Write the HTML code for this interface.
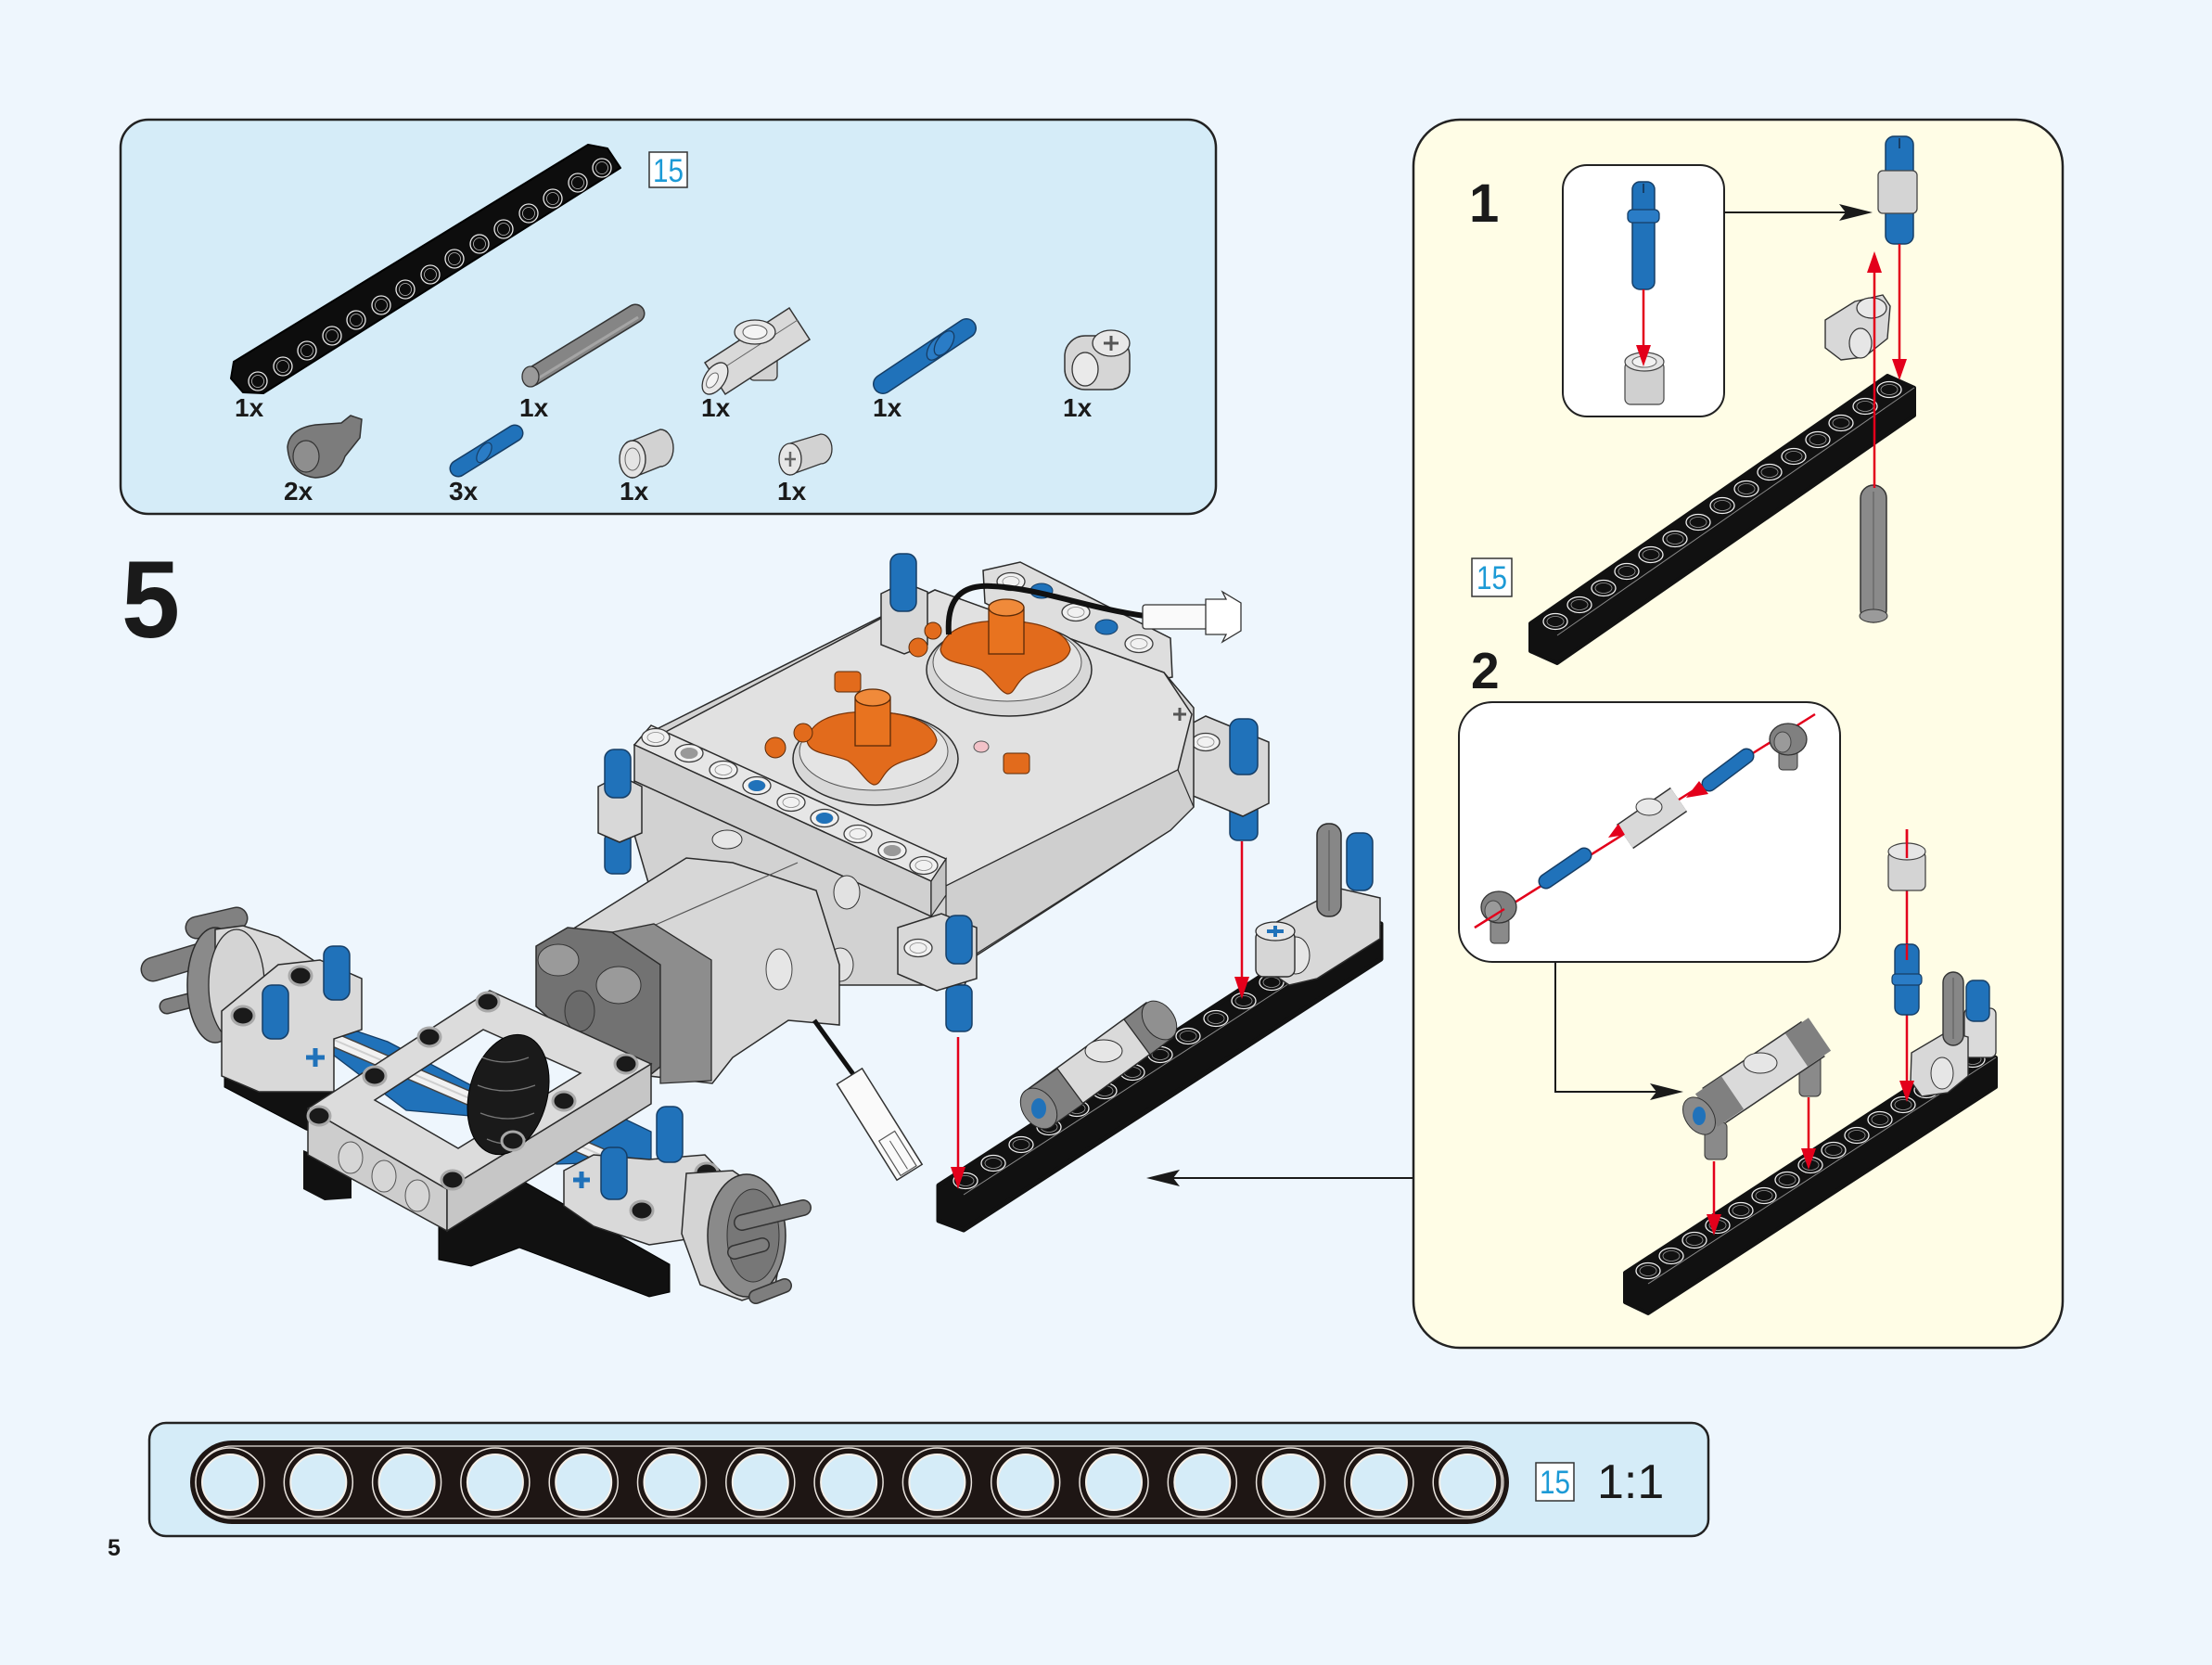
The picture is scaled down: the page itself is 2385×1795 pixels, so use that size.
<!DOCTYPE html>
<html><head><meta charset="utf-8">
<style>
html,body{margin:0;padding:0;background:#eef6fd;}
svg{display:block;}
text{font-family:"Liberation Sans",Arial,sans-serif;}
</style></head><body>
<svg width="2385" height="1795" viewBox="0 0 2385 1795" xmlns="http://www.w3.org/2000/svg" xmlns:xlink="http://www.w3.org/1999/xlink">
<defs>
<g id="hA"><ellipse rx="13" ry="8.5" fill="#111" stroke="#eee" stroke-width="1.3"/><ellipse rx="9" ry="5.5" fill="none" stroke="#9a9a9a" stroke-width="0.8"/></g>
<g id="hP"><circle r="10" fill="#0d0d0d" stroke="#e6e6e6" stroke-width="1.3"/><circle r="6.5" fill="none" stroke="#bbb" stroke-width="0.8"/></g>
<g id="hR"><circle r="37" fill="#1e1614" stroke="#e9e3dd" stroke-width="1.5"/><circle r="30" fill="#d5ecf8" stroke="#f4f0ea" stroke-width="2"/></g>
<g id="hL"><ellipse rx="15" ry="9.5" fill="#f1f1f1" stroke="#3a3a3a" stroke-width="1.3"/><ellipse rx="9" ry="5.5" fill="none" stroke="#888" stroke-width="0.8"/></g>
<g id="hF"><ellipse rx="12" ry="10" fill="#1a1a1a" stroke="#a8a8a8" stroke-width="3"/></g>
</defs>
<rect width="2385" height="1795" fill="#eef6fd"/>

<!-- ============ PARTS PANEL ============ -->
<rect x="130" y="129" width="1181" height="425" rx="30" fill="#d5ecf8" stroke="#222" stroke-width="2.5"/>
<polygon points="252,390 634,156 655,160 669,181 284,424 262,423 249,408" fill="#0d0d0d" stroke="#000" stroke-width="2" stroke-linejoin="round"/>
<g>
<use xlink:href="#hP" x="278" y="411"/><use xlink:href="#hP" x="305" y="395"/><use xlink:href="#hP" x="331" y="378"/><use xlink:href="#hP" x="358" y="362"/><use xlink:href="#hP" x="384" y="345"/><use xlink:href="#hP" x="411" y="329"/><use xlink:href="#hP" x="437" y="312"/><use xlink:href="#hP" x="464" y="296"/><use xlink:href="#hP" x="490" y="279"/><use xlink:href="#hP" x="517" y="263"/><use xlink:href="#hP" x="543" y="247"/><use xlink:href="#hP" x="570" y="230"/><use xlink:href="#hP" x="596" y="214"/><use xlink:href="#hP" x="623" y="197"/><use xlink:href="#hP" x="649" y="181"/>
</g>
<rect x="700" y="164" width="41" height="38" fill="#fff" stroke="#333" stroke-width="1.5"/>
<text x="720.5" y="196" font-size="35" fill="#1c9ad6" text-anchor="middle" textLength="33" lengthAdjust="spacingAndGlyphs">15</text>

<!-- gray axle -->
<line x1="574" y1="406" x2="685" y2="338" stroke="#333" stroke-width="21" stroke-linecap="round"/>
<line x1="574" y1="406" x2="685" y2="338" stroke="#858585" stroke-width="18" stroke-linecap="round"/>
<line x1="580" y1="408" x2="688" y2="342" stroke="#a5a5a5" stroke-width="3"/>
<ellipse cx="572" cy="406" rx="9" ry="11" fill="#9a9a9a" stroke="#333" stroke-width="1.3"/>
<!-- light gray connector -->
<rect x="808" y="378" width="30" height="32" rx="5" fill="#d2d2d2" stroke="#333" stroke-width="1.3"/>
<polygon points="760,391 851,332 873,366 782,425" fill="#d9d9d9" stroke="#333" stroke-width="1.5"/>
<line x1="778" y1="398" x2="860" y2="345" stroke="#666" stroke-width="1"/>
<ellipse cx="771" cy="408" rx="11" ry="19" transform="rotate(33 771 408)" fill="#e8e8e8" stroke="#333" stroke-width="1.3"/>
<ellipse cx="768" cy="410" rx="5" ry="9" transform="rotate(33 768 410)" fill="#f4f4f4" stroke="#666" stroke-width="1"/>
<ellipse cx="814" cy="358" rx="22" ry="13" fill="#e8e8e8" stroke="#333" stroke-width="1.3"/>
<ellipse cx="814" cy="358" rx="13" ry="7.5" fill="#f4f4f4" stroke="#555" stroke-width="1"/>
<!-- blue pin -->
<line x1="952" y1="414" x2="1042" y2="354" stroke="#163e66" stroke-width="22" stroke-linecap="round"/>
<line x1="952" y1="414" x2="1042" y2="354" stroke="#2072ba" stroke-width="19" stroke-linecap="round"/>
<ellipse cx="1010" cy="375" rx="8" ry="15" transform="rotate(34 1010 375)" fill="#2a7cc6" stroke="#163e66" stroke-width="1.3"/>
<ellipse cx="1018" cy="370" rx="8" ry="15" transform="rotate(34 1018 370)" fill="#2a7cc6" stroke="#163e66" stroke-width="1.3"/>
<!-- small light connector -->
<rect x="1148" y="362" width="70" height="58" rx="22" fill="#d6d6d6" stroke="#333" stroke-width="1.5"/>
<ellipse cx="1198" cy="370" rx="20" ry="14" fill="#e8e8e8" stroke="#333" stroke-width="1.3"/>
<path d="M1190,370 h16 M1198,362 v16" stroke="#555" stroke-width="3"/>
<ellipse cx="1170" cy="398" rx="14" ry="18" fill="#eaeaea" stroke="#333" stroke-width="1.3"/>
<!-- 2x dark part -->
<path d="M310,482 Q312,462 340,458 L368,456 L378,448 L390,452 L388,472 L372,492 Q365,514 340,515 Q312,512 310,482 Z" fill="#7c7c7c" stroke="#333" stroke-width="1.5"/>
<ellipse cx="330" cy="492" rx="14" ry="17" fill="#8e8e8e" stroke="#333" stroke-width="1.2"/>
<!-- 3x blue pin -->
<line x1="494" y1="505" x2="555" y2="467" stroke="#163e66" stroke-width="19" stroke-linecap="round"/>
<line x1="494" y1="505" x2="555" y2="467" stroke="#2072ba" stroke-width="16" stroke-linecap="round"/>
<ellipse cx="522" cy="488" rx="6" ry="12" transform="rotate(32 522 488)" fill="#2a7cc6" stroke="#163e66" stroke-width="1.2"/>
<!-- bushing -->
<path d="M682,475 L712,463 A14,20 0 0 1 712,503 L682,515 Z" fill="#d2d2d2" stroke="#333" stroke-width="1.4"/>
<ellipse cx="682" cy="495" rx="14" ry="20" fill="#e4e4e4" stroke="#333" stroke-width="1.4"/>
<ellipse cx="682" cy="495" rx="8" ry="12" fill="none" stroke="#666" stroke-width="1"/>
<!-- small bushing with cross -->
<path d="M852,478 L885,468 A12,16 0 0 1 885,500 L852,512 Z" fill="#d2d2d2" stroke="#333" stroke-width="1.3"/>
<ellipse cx="852" cy="495" rx="12" ry="17" fill="#e6e6e6" stroke="#333" stroke-width="1.3"/>
<path d="M846,495 h12 M852,487 v16" stroke="#666" stroke-width="2.5"/>

<g font-size="28" font-weight="bold" fill="#1a1a1a">
<text x="253" y="449">1x</text><text x="560" y="449">1x</text><text x="756" y="449">1x</text><text x="941" y="449">1x</text><text x="1146" y="449">1x</text>
<text x="306" y="539">2x</text><text x="484" y="539">3x</text><text x="668" y="539">1x</text><text x="838" y="539">1x</text>
</g>

<!-- step number -->
<text x="131" y="687" font-size="118" font-weight="bold" fill="#1a1a1a" textLength="63" lengthAdjust="spacingAndGlyphs">5</text>

<!-- ============ MAIN ASSEMBLY ============ -->
<!-- back beam -->
<polygon points="1060,615 1100,606 1262,688 1264,730 1232,736 1062,650" fill="#dedede" stroke="#2b2b2b" stroke-width="1.5"/>
<use xlink:href="#hL" x="1090" y="627"/><use xlink:href="#hL" x="1160" y="660"/><use xlink:href="#hL" x="1228" y="694"/>
<ellipse cx="1123" cy="637" rx="12" ry="8" fill="#2072ba" stroke="#163e66"/>
<ellipse cx="1193" cy="676" rx="12" ry="8" fill="#2072ba" stroke="#163e66"/>
<!-- right piece -->
<rect x="1326" y="866" width="30" height="40" rx="8" fill="#2072ba" stroke="#163e66" stroke-width="1.5"/>
<polygon points="1262,792 1300,772 1368,800 1368,866 1340,880 1262,848" fill="#d8d8d8" stroke="#2b2b2b" stroke-width="1.5"/>
<use xlink:href="#hL" x="1300" y="800"/>
<rect x="1326" y="775" width="30" height="60" rx="10" fill="#2072ba" stroke="#163e66" stroke-width="1.5"/>
<!-- box -->
<polygon points="700,790 1008,636 1255,725 1287,763 1287,870 1262,895 1053,1030 1018,1000 960,985 700,860" fill="#d3d3d3" stroke="#2b2b2b" stroke-width="1.5"/>
<polygon points="712,792 1008,636 1255,725 1285,770 1270,830 1020,955" fill="#e1e1e1" stroke="#2b2b2b" stroke-width="1.5"/>
<polygon points="1020,955 1270,830 1287,870 1262,895 1053,1028 1020,1000" fill="#cfcfcf" stroke="#2b2b2b" stroke-width="1.2"/>
<path d="M1265,770 l14,0 M1272,763 v14" stroke="#555" stroke-width="3"/>
<!-- top-left post -->
<path d="M950,640 L975,628 L1000,638 L1000,695 L975,705 L950,695 Z" fill="#d8d8d8" stroke="#2b2b2b" stroke-width="1.5"/>
<rect x="960" y="597" width="28" height="62" rx="10" fill="#2072ba" stroke="#163e66" stroke-width="1.5"/>
<!-- circle A -->
<ellipse cx="1088" cy="722" rx="89" ry="50" fill="#d8d8d8" stroke="#2b2b2b" stroke-width="1.5"/>
<ellipse cx="1086" cy="714" rx="80" ry="42" fill="#e4e4e4" stroke="#555" stroke-width="1"/>
<path d="M1014,700 C1020,672 1060,668 1088,670 C1120,670 1150,680 1154,700 C1150,720 1118,718 1104,730 C1094,738 1094,748 1086,748 C1078,746 1070,730 1058,722 C1040,714 1016,716 1014,700 Z" fill="#e26b1c" stroke="#7a3408" stroke-width="1.2"/>
<rect x="1066" y="655" width="38" height="50" fill="#e8731f" stroke="#5a2a08" stroke-width="1.3"/>
<ellipse cx="1085" cy="655" rx="19" ry="9" fill="#f08a3a" stroke="#5a2a08" stroke-width="1.3"/>
<!-- circle B -->
<ellipse cx="944" cy="818" rx="89" ry="50" fill="#d8d8d8" stroke="#2b2b2b" stroke-width="1.5"/>
<ellipse cx="942" cy="810" rx="80" ry="42" fill="#e4e4e4" stroke="#555" stroke-width="1"/>
<path d="M870,798 C876,770 916,766 944,768 C976,768 1006,778 1010,798 C1006,818 974,816 960,828 C950,836 950,846 942,846 C934,844 926,828 914,820 C896,812 872,814 870,798 Z" fill="#e26b1c" stroke="#7a3408" stroke-width="1.2"/>
<rect x="922" y="752" width="38" height="52" fill="#e8731f" stroke="#5a2a08" stroke-width="1.3"/>
<ellipse cx="941" cy="752" rx="19" ry="9" fill="#f08a3a" stroke="#5a2a08" stroke-width="1.3"/>
<!-- small orange bits -->
<circle cx="836" cy="806" r="11" fill="#e26b1c" stroke="#5a2a08"/><circle cx="866" cy="790" r="10" fill="#e26b1c" stroke="#5a2a08"/>
<circle cx="990" cy="698" r="10" fill="#e26b1c" stroke="#5a2a08"/><circle cx="1006" cy="680" r="9" fill="#e26b1c" stroke="#5a2a08"/>
<rect x="900" y="724" width="28" height="22" rx="4" fill="#e26b1c" stroke="#5a2a08"/>
<rect x="1082" y="812" width="28" height="22" rx="4" fill="#e26b1c" stroke="#5a2a08"/>
<ellipse cx="1058" cy="805" rx="8" ry="6" fill="#f2c2c8" stroke="#555"/>
<!-- cable top -->
<path d="M1023,684 C1020,642 1040,630 1070,632 C1120,634 1170,655 1234,664" fill="none" stroke="#111" stroke-width="6"/>
<rect x="1232" y="652" width="70" height="26" rx="3" fill="#fafafa" stroke="#333" stroke-width="1.3"/>
<path d="M1300,646 L1322,646 L1318,638 L1338,650 L1338,680 L1318,692 L1322,684 L1300,684 Z" fill="#fff" stroke="#333" stroke-width="1.3"/>
<!-- front beam -->
<polygon points="684,803 702,782 1020,926 1004,950" fill="#e6e6e6" stroke="#2b2b2b" stroke-width="1.5"/>
<polygon points="684,803 1004,950 1004,988 684,842" fill="#d0d0d0" stroke="#2b2b2b" stroke-width="1.5"/>
<polygon points="1004,950 1020,926 1020,965 1004,988" fill="#c4c4c4" stroke="#2b2b2b" stroke-width="1.2"/>
<use xlink:href="#hL" x="707" y="795"/><use xlink:href="#hL" x="743" y="812"/><use xlink:href="#hL" x="780" y="830"/><use xlink:href="#hL" x="816" y="847"/><use xlink:href="#hL" x="853" y="865"/><use xlink:href="#hL" x="889" y="882"/><use xlink:href="#hL" x="925" y="899"/><use xlink:href="#hL" x="962" y="917"/><use xlink:href="#hL" x="996" y="933"/>
<ellipse cx="816" cy="847" rx="9" ry="6" fill="#2072ba"/><ellipse cx="889" cy="882" rx="9" ry="6" fill="#2072ba"/>
<ellipse cx="743" cy="812" rx="9" ry="6" fill="#999"/><ellipse cx="962" cy="917" rx="9" ry="6" fill="#999"/>
<!-- region below front beam -->
<polygon points="684,842 1004,988 1040,1010 1053,1030 1040,1062 900,1062 860,1020 760,985 700,955 684,900" fill="#d2d2d2" stroke="#2b2b2b" stroke-width="1.5"/>
<ellipse cx="784" cy="905" rx="16" ry="10" fill="#e6e6e6" stroke="#333"/>
<ellipse cx="913" cy="962" rx="14" ry="18" fill="#e2e2e2" stroke="#333"/>
<ellipse cx="906" cy="1040" rx="14" ry="18" fill="#e2e2e2" stroke="#333"/>
<!-- left post -->
<rect x="652" y="897" width="28" height="45" rx="8" fill="#2072ba" stroke="#163e66" stroke-width="1.5"/>
<polygon points="645,848 668,836 692,848 692,898 668,908 645,898" fill="#d8d8d8" stroke="#2b2b2b" stroke-width="1.5"/>
<rect x="652" y="808" width="28" height="52" rx="10" fill="#2072ba" stroke="#163e66" stroke-width="1.5"/>
<!-- bottom right post -->
<rect x="1020" y="1062" width="28" height="50" rx="8" fill="#2072ba" stroke="#163e66" stroke-width="1.5"/>
<polygon points="968,1000 1015,985 1053,1000 1053,1055 1010,1068 968,1050" fill="#d8d8d8" stroke="#2b2b2b" stroke-width="1.5"/>
<use xlink:href="#hL" x="990" y="1022"/>
<rect x="1020" y="987" width="28" height="52" rx="10" fill="#2072ba" stroke="#163e66" stroke-width="1.5"/>

<!-- motor -->
<polygon points="612,1005 740,925 790,930 880,960 905,1040 905,1105 850,1100 790,1140 768,1168 700,1160" fill="#d7d7d7" stroke="#2b2b2b" stroke-width="1.5"/>
<line x1="700" y1="1000" x2="860" y2="930" stroke="#555" stroke-width="1.2"/>
<ellipse cx="840" cy="1045" rx="14" ry="22" fill="#e6e6e6" stroke="#444"/>
<polygon points="578,1020 612,1000 660,1005 712,1040 712,1150 690,1168 650,1150 578,1085" fill="#727272" stroke="#2b2b2b" stroke-width="1.5"/>
<polygon points="660,1005 705,996 767,1035 767,1165 712,1168 712,1040" fill="#8d8d8d" stroke="#2b2b2b" stroke-width="1.3"/>
<ellipse cx="602" cy="1035" rx="22" ry="17" fill="#9a9a9a" stroke="#333"/>
<ellipse cx="667" cy="1062" rx="24" ry="20" fill="#9a9a9a" stroke="#333"/>
<ellipse cx="625" cy="1090" rx="16" ry="22" fill="#6a6a6a" stroke="#333"/>

<!-- left chassis -->
<polygon points="242,1135 262,1128 400,1195 400,1240 330,1218 242,1172" fill="#111" stroke="#000"/>
<polygon points="359,1103 418,1123 508,1170 508,1203 438,1197 359,1137" fill="#2072ba" stroke="#163e66" stroke-width="1.3"/>
<polygon points="593,1207 650,1195 702,1220 702,1252 600,1255" fill="#2072ba" stroke="#163e66" stroke-width="1.3"/>
<line x1="300" y1="1095" x2="740" y2="1285" stroke="#444" stroke-width="16"/>
<line x1="300" y1="1095" x2="740" y2="1285" stroke="#f2f2f2" stroke-width="13"/>
<line x1="300" y1="1095" x2="740" y2="1285" stroke="#cfcfcf" stroke-width="2"/>
<!-- left hub -->
<line x1="165" y1="1045" x2="215" y2="1030" stroke="#333" stroke-width="27" stroke-linecap="round"/>
<line x1="165" y1="1045" x2="215" y2="1030" stroke="#818181" stroke-width="24" stroke-linecap="round"/>
<line x1="212" y1="1000" x2="255" y2="990" stroke="#333" stroke-width="25" stroke-linecap="round"/>
<line x1="212" y1="1000" x2="255" y2="990" stroke="#818181" stroke-width="22" stroke-linecap="round"/>
<line x1="180" y1="1085" x2="215" y2="1076" stroke="#333" stroke-width="17" stroke-linecap="round"/>
<line x1="180" y1="1085" x2="215" y2="1076" stroke="#818181" stroke-width="14" stroke-linecap="round"/>
<ellipse cx="232" cy="1062" rx="30" ry="62" fill="#8a8a8a" stroke="#2b2b2b" stroke-width="1.5"/>
<polygon points="232,1002 262,998 300,1010 345,1040 345,1125 300,1135 245,1120 232,1070" fill="#d9d9d9" stroke="#2b2b2b" stroke-width="1.5"/>
<ellipse cx="255" cy="1062" rx="30" ry="60" fill="#d4d4d4" stroke="#2b2b2b" stroke-width="1.3"/>
<!-- blocks -->
<polygon points="239,1090 300,1040 345,1035 390,1055 390,1110 360,1120 360,1177 279,1177 239,1160" fill="#d9d9d9" stroke="#2b2b2b" stroke-width="1.5"/>
<use xlink:href="#hF" x="262" y="1095"/><use xlink:href="#hF" x="324" y="1052"/>
<rect x="283" y="1062" width="28" height="58" rx="10" fill="#2072ba" stroke="#163e66" stroke-width="1.5"/>
<rect x="349" y="1020" width="28" height="58" rx="10" fill="#2072ba" stroke="#163e66" stroke-width="1.5"/>
<path d="M330,1140 h20 M340,1130 v20" stroke="#2072ba" stroke-width="5"/>
<!-- black legs & base -->
<polygon points="327,1240 379,1262 379,1292 350,1294 327,1282" fill="#111"/>
<polygon points="473,1283 508,1290 558,1270 722,1363 722,1393 700,1398 560,1345 508,1365 473,1358" fill="#111" stroke="#000"/>
<!-- frame -->
<polygon points="332,1195 482,1282 482,1327 332,1245" fill="#cdcdcd" stroke="#2b2b2b" stroke-width="1.5"/>
<polygon points="482,1282 702,1147 702,1190 482,1327" fill="#c6c6c6" stroke="#2b2b2b" stroke-width="1.5"/>
<path d="M332,1195 L528,1068 L702,1147 L482,1282 Z M404,1186 L494,1238 L626,1157 L521,1110 Z" fill="#dcdcdc" fill-rule="evenodd" stroke="#2b2b2b" stroke-width="1.5"/>
<ellipse cx="378" cy="1248" rx="13" ry="17" fill="#d6d6d6" stroke="#555"/>
<ellipse cx="414" cy="1268" rx="13" ry="17" fill="#d6d6d6" stroke="#555"/>
<ellipse cx="450" cy="1289" rx="13" ry="17" fill="#d6d6d6" stroke="#555"/>
<ellipse cx="548" cy="1180" rx="42" ry="66" transform="rotate(15 548 1180)" fill="#1a1a1a" stroke="#000"/>
<path d="M520,1140 q25,10 50,0 M515,1170 q30,12 62,0 M518,1200 q30,12 58,0 M525,1228 q22,10 42,0" fill="none" stroke="#777" stroke-width="1.3"/>
<use xlink:href="#hF" x="344" y="1203"/><use xlink:href="#hF" x="404" y="1160"/><use xlink:href="#hF" x="463" y="1118"/><use xlink:href="#hF" x="526" y="1080"/><use xlink:href="#hF" x="675" y="1147"/><use xlink:href="#hF" x="608" y="1187"/><use xlink:href="#hF" x="553" y="1230"/><use xlink:href="#hF" x="488" y="1272"/>
<!-- lower right blocks -->
<polygon points="608,1262 640,1245 700,1250 760,1245 782,1268 782,1330 700,1342 640,1322 608,1300" fill="#d9d9d9" stroke="#2b2b2b" stroke-width="1.5"/>
<use xlink:href="#hF" x="692" y="1305"/><use xlink:href="#hF" x="762" y="1264"/>
<path d="M618,1272 h18 M627,1263 v18" stroke="#2072ba" stroke-width="5"/>
<rect x="648" y="1237" width="28" height="56" rx="10" fill="#2072ba" stroke="#163e66" stroke-width="1.5"/>
<rect x="708" y="1193" width="28" height="60" rx="10" fill="#2072ba" stroke="#163e66" stroke-width="1.5"/>
<!-- lower right hub -->
<polygon points="740,1265 790,1262 830,1290 846,1330 835,1390 800,1402 755,1385 735,1330" fill="#d4d4d4" stroke="#2b2b2b" stroke-width="1.5"/>
<ellipse cx="805" cy="1332" rx="42" ry="66" fill="#8a8a8a" stroke="#2b2b2b" stroke-width="1.5"/>
<ellipse cx="812" cy="1332" rx="28" ry="50" fill="#777" stroke="#333"/>
<line x1="800" y1="1318" x2="866" y2="1302" stroke="#333" stroke-width="18" stroke-linecap="round"/>
<line x1="800" y1="1318" x2="866" y2="1302" stroke="#7e7e7e" stroke-width="15" stroke-linecap="round"/>
<line x1="792" y1="1350" x2="822" y2="1342" stroke="#333" stroke-width="16" stroke-linecap="round"/>
<line x1="792" y1="1350" x2="822" y2="1342" stroke="#7e7e7e" stroke-width="13" stroke-linecap="round"/>
<line x1="815" y1="1398" x2="846" y2="1386" stroke="#333" stroke-width="16" stroke-linecap="round"/>
<line x1="815" y1="1398" x2="846" y2="1386" stroke="#7e7e7e" stroke-width="13" stroke-linecap="round"/>

<!-- bottom cable and plug -->
<path d="M878,1100 L925,1165" stroke="#111" stroke-width="5"/>
<g transform="translate(952,1218) rotate(-32)">
<rect x="-16" y="-68" width="32" height="122" fill="#fafafa" stroke="#333" stroke-width="1.5"/>
<rect x="-10" y="8" width="20" height="44" fill="none" stroke="#555" stroke-width="1.2"/>
<line x1="0" y1="14" x2="0" y2="50" stroke="#555" stroke-width="1"/>
</g>

<!-- main black beam -->
<polygon points="1012,1278 1462,986 1489,996 1489,1034 1039,1326 1012,1316" fill="#111" stroke="#111" stroke-width="5" stroke-linejoin="round"/>
<line x1="1039" y1="1288" x2="1489" y2="996" stroke="#888" stroke-width="1"/>
<g>
<use xlink:href="#hA" x="1041" y="1273"/><use xlink:href="#hA" x="1071" y="1254"/><use xlink:href="#hA" x="1101" y="1234"/><use xlink:href="#hA" x="1131" y="1215"/><use xlink:href="#hA" x="1161" y="1195"/><use xlink:href="#hA" x="1191" y="1176"/><use xlink:href="#hA" x="1221" y="1156"/><use xlink:href="#hA" x="1251" y="1137"/><use xlink:href="#hA" x="1281" y="1117"/><use xlink:href="#hA" x="1311" y="1098"/><use xlink:href="#hA" x="1341" y="1079"/><use xlink:href="#hA" x="1371" y="1059"/><use xlink:href="#hA" x="1401" y="1040"/><use xlink:href="#hA" x="1431" y="1020"/><use xlink:href="#hA" x="1461" y="1001"/>
</g>
<!-- tube connector -->
<polygon points="1106,1176 1236,1081 1264,1119 1134,1214" fill="#dadada" stroke="#2b2b2b" stroke-width="1.5"/>
<polygon points="1106,1176 1140,1152 1168,1190 1134,1214" fill="#808080" stroke="#2b2b2b" stroke-width="1.3"/>
<polygon points="1212,1099 1236,1081 1264,1119 1240,1137" fill="#808080" stroke="#2b2b2b" stroke-width="1.3"/>
<ellipse cx="1250" cy="1100" rx="16" ry="23" transform="rotate(-36 1250 1100)" fill="#909090" stroke="#2b2b2b"/>
<ellipse cx="1120" cy="1195" rx="17" ry="24" transform="rotate(-36 1120 1195)" fill="#8a8a8a" stroke="#2b2b2b"/>
<ellipse cx="1120" cy="1195" rx="8" ry="11" fill="#2072ba"/>
<ellipse cx="1190" cy="1133" rx="20" ry="12" fill="#e6e6e6" stroke="#2b2b2b"/>
<!-- right end parts -->
<polygon points="1365,1000 1445,958 1488,968 1488,1012 1420,1055 1390,1062 1365,1045" fill="#d8d8d8" stroke="#2b2b2b" stroke-width="1.5"/>
<ellipse cx="1397" cy="1030" rx="15" ry="20" fill="#e6e6e6" stroke="#2b2b2b"/>
<rect x="1420" y="888" width="26" height="100" rx="12" fill="#878787" stroke="#2b2b2b" stroke-width="1.5"/>
<line x1="1433" y1="895" x2="1433" y2="982" stroke="#666" stroke-width="1.5"/>
<rect x="1452" y="898" width="28" height="62" rx="10" fill="#2072ba" stroke="#163e66" stroke-width="1.5"/>
<rect x="1354" y="1003" width="42" height="50" rx="8" fill="#d6d6d6" stroke="#2b2b2b" stroke-width="1.4"/>
<ellipse cx="1375" cy="1004" rx="21" ry="10" fill="#e8e8e8" stroke="#2b2b2b" stroke-width="1.3"/>
<path d="M1366,1004 h18 M1375,998 v12" stroke="#2072ba" stroke-width="4"/>

<!-- red arrows main -->
<line x1="1339" y1="907" x2="1339" y2="1058" stroke="#e3001b" stroke-width="2.5"/>
<polygon points="1339,1077 1331,1053 1347,1053" fill="#e3001b"/>
<line x1="1033" y1="1118" x2="1033" y2="1262" stroke="#e3001b" stroke-width="2.5"/>
<polygon points="1033,1282 1025,1258 1041,1258" fill="#e3001b"/>
<!-- black arrow main -->
<line x1="1524" y1="1270" x2="1262" y2="1270" stroke="#1a1a1a" stroke-width="2"/>
<polygon points="1236,1270 1272,1261 1265,1270 1272,1279" fill="#1a1a1a"/>

<!-- ============ RIGHT PANEL ============ -->
<rect x="1524" y="129" width="700" height="1324" rx="50" fill="#fffde6" stroke="#222" stroke-width="2.5"/>
<text x="1584" y="239" font-size="58" font-weight="bold" fill="#1a1a1a">1</text>
<text x="1586" y="742" font-size="55" font-weight="bold" fill="#1a1a1a">2</text>

<!-- inset 1 -->
<rect x="1685" y="178" width="174" height="271" rx="26" fill="#fff" stroke="#222" stroke-width="2"/>
<rect x="1760" y="196" width="24" height="116" rx="8" fill="#2072ba" stroke="#163e66" stroke-width="1.5"/>
<rect x="1755" y="226" width="34" height="14" rx="5" fill="#2a7cc6" stroke="#163e66" stroke-width="1.3"/>
<line x1="1772" y1="198" x2="1772" y2="208" stroke="#163e66" stroke-width="2"/>
<line x1="1772" y1="312" x2="1772" y2="375" stroke="#e3001b" stroke-width="2.5"/>
<rect x="1752" y="390" width="42" height="46" rx="6" fill="#d0d0d0" stroke="#444" stroke-width="1.2"/>
<ellipse cx="1773" cy="390" rx="21" ry="10" fill="#e4e4e4" stroke="#444" stroke-width="1.2"/>
<ellipse cx="1773" cy="390" rx="13" ry="6" fill="#f2f2f2" stroke="#666" stroke-width="1"/>
<polygon points="1772,395 1764,372 1780,372" fill="#e3001b"/>
<line x1="1859" y1="229" x2="1992" y2="229" stroke="#1a1a1a" stroke-width="2"/>
<polygon points="2019,229 1983,220 1990,229 1983,238" fill="#1a1a1a"/>
<!-- assembled pin+bush -->
<rect x="2033" y="147" width="30" height="116" rx="9" fill="#2072ba" stroke="#163e66" stroke-width="1.5"/>
<line x1="2048" y1="149" x2="2048" y2="160" stroke="#163e66" stroke-width="2"/>
<rect x="2025" y="184" width="42" height="46" rx="5" fill="#d4d4d4" stroke="#444" stroke-width="1.3"/>
<!-- beam 1 -->
<polygon points="1650,672 2035,405 2064,418 2064,448 1679,715 1650,702" fill="#111" stroke="#111" stroke-width="4" stroke-linejoin="round"/>
<line x1="1679" y1="685" x2="2064" y2="418" stroke="#888" stroke-width="1"/>
<g>
<use xlink:href="#hA" x="1677" y="670"/><use xlink:href="#hA" x="1703" y="652"/><use xlink:href="#hA" x="1729" y="634"/><use xlink:href="#hA" x="1754" y="616"/><use xlink:href="#hA" x="1780" y="598"/><use xlink:href="#hA" x="1806" y="581"/><use xlink:href="#hA" x="1831" y="563"/><use xlink:href="#hA" x="1857" y="545"/><use xlink:href="#hA" x="1883" y="527"/><use xlink:href="#hA" x="1908" y="509"/><use xlink:href="#hA" x="1934" y="492"/><use xlink:href="#hA" x="1960" y="474"/><use xlink:href="#hA" x="1985" y="456"/><use xlink:href="#hA" x="2011" y="438"/><use xlink:href="#hA" x="2037" y="420"/>
</g>
<!-- connector above beam -->
<path d="M1968,345 L2000,325 L2030,318 L2038,330 L2035,365 L2010,385 L1985,388 L1968,375 Z" fill="#d8d8d8" stroke="#333" stroke-width="1.4"/>
<ellipse cx="2018" cy="332" rx="16" ry="11" fill="#e8e8e8" stroke="#333" stroke-width="1.2"/>
<ellipse cx="2006" cy="370" rx="12" ry="16" fill="#e6e6e6" stroke="#333" stroke-width="1.2"/>
<!-- gray axle -->
<rect x="2006" y="523" width="28" height="148" rx="14" fill="#8a8a8a" stroke="#333" stroke-width="1.5"/>
<line x1="2020" y1="530" x2="2020" y2="660" stroke="#6a6a6a" stroke-width="1.5"/>
<ellipse cx="2020" cy="664" rx="15" ry="7" fill="#9a9a9a" stroke="#333"/>
<!-- red arrows panel 1 -->
<line x1="2021" y1="290" x2="2021" y2="526" stroke="#e3001b" stroke-width="2.5"/>
<polygon points="2021,271 2013,294 2029,294" fill="#e3001b"/>
<line x1="2048" y1="263" x2="2048" y2="390" stroke="#e3001b" stroke-width="2.5"/>
<polygon points="2048,410 2040,387 2056,387" fill="#e3001b"/>

<rect x="1587" y="602" width="43" height="41" fill="#fff" stroke="#333" stroke-width="1.5"/>
<text x="1608.5" y="635" font-size="35" fill="#1c9ad6" text-anchor="middle" textLength="33" lengthAdjust="spacingAndGlyphs">15</text>

<!-- inset 2 -->
<rect x="1573" y="757" width="411" height="280" rx="36" fill="#fff" stroke="#222" stroke-width="2"/>
<line x1="1590" y1="1000" x2="1957" y2="770" stroke="#e3001b" stroke-width="2.5"/>
<!-- right elbow -->
<rect x="1918" y="805" width="20" height="25" rx="4" fill="#8a8a8a" stroke="#333"/>
<ellipse cx="1928" cy="797" rx="20" ry="17" fill="#808080" stroke="#333" stroke-width="1.3"/>
<ellipse cx="1922" cy="800" rx="9" ry="11" fill="#9a9a9a" stroke="#444"/>
<!-- right blue pin -->
<line x1="1843" y1="845" x2="1883" y2="815" stroke="#163e66" stroke-width="17" stroke-linecap="round"/>
<line x1="1843" y1="845" x2="1883" y2="815" stroke="#2072ba" stroke-width="14" stroke-linecap="round"/>
<!-- connector -->
<line x1="1752" y1="902" x2="1810" y2="862" stroke="#333" stroke-width="32"/>
<line x1="1752" y1="902" x2="1810" y2="862" stroke="#d9d9d9" stroke-width="29"/>
<ellipse cx="1778" cy="870" rx="14" ry="9" fill="#e8e8e8" stroke="#333"/>
<!-- left blue pin -->
<line x1="1667" y1="950" x2="1708" y2="922" stroke="#163e66" stroke-width="17" stroke-linecap="round"/>
<line x1="1667" y1="950" x2="1708" y2="922" stroke="#2072ba" stroke-width="14" stroke-linecap="round"/>
<!-- left elbow -->
<rect x="1607" y="990" width="20" height="27" rx="4" fill="#8a8a8a" stroke="#333"/>
<ellipse cx="1616" cy="978" rx="19" ry="17" fill="#808080" stroke="#333" stroke-width="1.3"/>
<ellipse cx="1610" cy="982" rx="9" ry="11" fill="#9a9a9a" stroke="#444"/>
<line x1="1590" y1="1000" x2="1622" y2="980" stroke="#e3001b" stroke-width="2.5"/>
<polygon points="1818,860 1832,842 1842,856" fill="#e3001b"/>
<polygon points="1752,900 1734,903 1745,888" fill="#e3001b"/>

<!-- elbow arrow -->
<polyline points="1677,1037 1677,1177 1790,1177" fill="none" stroke="#1a1a1a" stroke-width="2"/>
<polygon points="1815,1177 1779,1168 1786,1177 1779,1186" fill="#1a1a1a"/>

<!-- beam 2 -->
<polygon points="1752,1372 2127,1128 2152,1140 2152,1172 1777,1416 1752,1404" fill="#111" stroke="#111" stroke-width="4" stroke-linejoin="round"/>
<line x1="1777" y1="1384" x2="2152" y2="1140" stroke="#888" stroke-width="1"/>
<g>
<use xlink:href="#hA" x="1777" y="1370"/><use xlink:href="#hA" x="1802" y="1354"/><use xlink:href="#hA" x="1827" y="1337"/><use xlink:href="#hA" x="1852" y="1321"/><use xlink:href="#hA" x="1877" y="1305"/><use xlink:href="#hA" x="1902" y="1289"/><use xlink:href="#hA" x="1927" y="1272"/><use xlink:href="#hA" x="1952" y="1256"/><use xlink:href="#hA" x="1977" y="1240"/><use xlink:href="#hA" x="2002" y="1224"/><use xlink:href="#hA" x="2027" y="1207"/><use xlink:href="#hA" x="2052" y="1191"/><use xlink:href="#hA" x="2077" y="1175"/><use xlink:href="#hA" x="2102" y="1158"/><use xlink:href="#hA" x="2127" y="1142"/>
</g>
<!-- double connector -->
<rect x="1838" y="1210" width="24" height="40" rx="5" fill="#8a8a8a" stroke="#333"/>
<rect x="1940" y="1135" width="23" height="47" rx="5" fill="#8a8a8a" stroke="#333"/>
<line x1="1848" y1="1192" x2="1955" y2="1120" stroke="#333" stroke-width="46"/>
<line x1="1848" y1="1192" x2="1955" y2="1120" stroke="#dadada" stroke-width="43"/>
<line x1="1840" y1="1197" x2="1868" y2="1178" stroke="#808080" stroke-width="43"/>
<line x1="1937" y1="1132" x2="1962" y2="1115" stroke="#808080" stroke-width="43"/>
<ellipse cx="1832" cy="1203" rx="15" ry="22" transform="rotate(-34 1832 1203)" fill="#8a8a8a" stroke="#333"/>
<ellipse cx="1832" cy="1203" rx="7" ry="10" fill="#2072ba"/>
<ellipse cx="1898" cy="1146" rx="18" ry="11" fill="#e6e6e6" stroke="#333"/>
<!-- right parts beam 2 -->
<rect x="2118" y="1087" width="34" height="53" rx="6" fill="#dadada" stroke="#333" stroke-width="1.3"/>
<rect x="2120" y="1057" width="25" height="44" rx="8" fill="#2072ba" stroke="#163e66" stroke-width="1.4"/>
<path d="M2061,1135 L2100,1112 L2122,1118 L2122,1160 L2100,1178 L2072,1182 L2060,1165 Z" fill="#d8d8d8" stroke="#333" stroke-width="1.4"/>
<ellipse cx="2094" cy="1157" rx="12" ry="17" fill="#e6e6e6" stroke="#333"/>
<rect x="2095" y="1048" width="22" height="79" rx="11" fill="#878787" stroke="#333" stroke-width="1.4"/>
<line x1="2106" y1="1054" x2="2106" y2="1120" stroke="#666" stroke-width="1.3"/>
<!-- red line vertical right -->
<line x1="2056" y1="894" x2="2056" y2="1166" stroke="#e3001b" stroke-width="2.5"/>
<rect x="2036" y="918" width="40" height="42" rx="6" fill="#d4d4d4" stroke="#444" stroke-width="1.3"/>
<ellipse cx="2056" cy="918" rx="20" ry="9" fill="#e6e6e6" stroke="#444" stroke-width="1.2"/>
<line x1="2056" y1="894" x2="2056" y2="925" stroke="#e3001b" stroke-width="2.5"/>
<rect x="2043" y="1018" width="26" height="76" rx="8" fill="#2072ba" stroke="#163e66" stroke-width="1.4"/>
<rect x="2040" y="1050" width="32" height="12" rx="4" fill="#2a7cc6" stroke="#163e66" stroke-width="1.2"/>
<line x1="2056" y1="1018" x2="2056" y2="1035" stroke="#e3001b" stroke-width="2.5"/>
<polygon points="2056,1188 2048,1165 2064,1165" fill="#e3001b"/>
<line x1="1848" y1="1252" x2="1848" y2="1312" stroke="#e3001b" stroke-width="2.5"/>
<polygon points="1848,1332 1840,1309 1856,1309" fill="#e3001b"/>
<line x1="1950" y1="1183" x2="1950" y2="1240" stroke="#e3001b" stroke-width="2.5"/>
<polygon points="1950,1261 1942,1238 1958,1238" fill="#e3001b"/>

<!-- ============ RULER ============ -->
<rect x="161" y="1534" width="1681" height="122" rx="18" fill="#d5ecf8" stroke="#222" stroke-width="2.5"/>
<rect x="205" y="1553" width="1422" height="90" rx="45" fill="#1e1614"/>
<rect x="211" y="1559" width="1410" height="78" rx="39" fill="none" stroke="#e8e2dc" stroke-width="1.3"/>
<g>
<use xlink:href="#hR" x="248" y="1598"/><use xlink:href="#hR" x="343.3" y="1598"/><use xlink:href="#hR" x="438.6" y="1598"/><use xlink:href="#hR" x="533.9" y="1598"/><use xlink:href="#hR" x="629.2" y="1598"/><use xlink:href="#hR" x="724.5" y="1598"/><use xlink:href="#hR" x="819.8" y="1598"/><use xlink:href="#hR" x="915.1" y="1598"/><use xlink:href="#hR" x="1010.4" y="1598"/><use xlink:href="#hR" x="1105.7" y="1598"/><use xlink:href="#hR" x="1201" y="1598"/><use xlink:href="#hR" x="1296.3" y="1598"/><use xlink:href="#hR" x="1391.6" y="1598"/><use xlink:href="#hR" x="1486.9" y="1598"/><use xlink:href="#hR" x="1582.2" y="1598"/>
</g>
<rect x="1656" y="1577" width="41" height="41" fill="#fff" stroke="#333" stroke-width="1.5"/>
<text x="1676.5" y="1610" font-size="35" fill="#1c9ad6" text-anchor="middle" textLength="33" lengthAdjust="spacingAndGlyphs">15</text>
<text x="1722" y="1615" font-size="52" fill="#1a1a1a">1:1</text>

<!-- page number -->
<text x="116" y="1677" font-size="25" font-weight="bold" fill="#1a1a1a">5</text>
</svg>
</body></html>
